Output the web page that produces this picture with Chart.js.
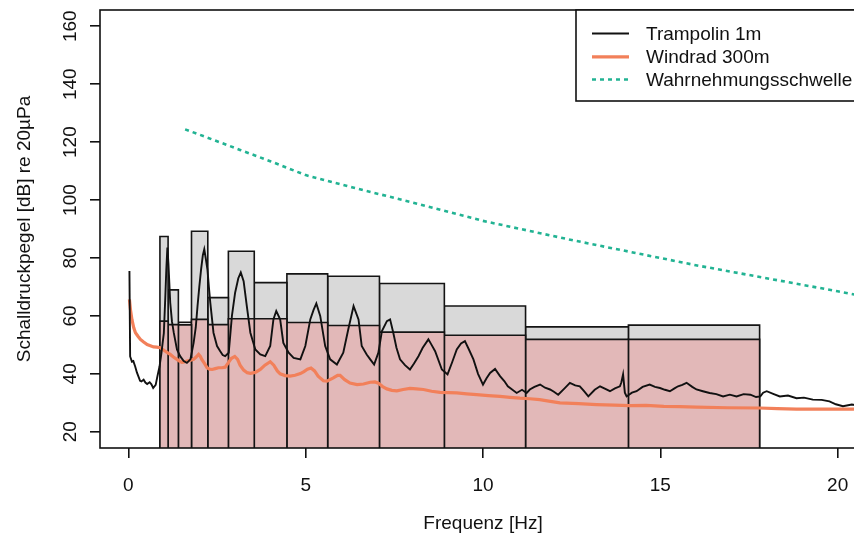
<!DOCTYPE html>
<html>
<head>
<meta charset="utf-8">
<script src="https://cdn.jsdelivr.net/npm/chart.js@4.4.1/dist/chart.umd.min.js"></script>
<style>
  body { margin: 0; background: #fff; }
  #wrap { width: 854px; height: 541px; overflow: hidden; }
</style>
</head>
<body>
<div id="wrap"><canvas id="plot" width="880" height="541"></canvas></div>
<script>
// third-octave bands: lower / upper edge [Hz], band levels [dB]
const bandLow  = [0.89, 1.12, 1.41, 1.78, 2.24, 2.82, 3.55, 4.47, 5.62, 7.08, 8.91, 11.2, 14.1];
const bandHigh = [1.12, 1.41, 1.78, 2.24, 2.82, 3.55, 4.47, 5.62, 7.08, 8.91, 11.2, 14.1, 17.8];
const bandGrey = [87.4, 69.0, 57.8, 89.2, 66.3, 82.3, 71.5, 74.5, 73.7, 71.2, 63.4, 56.2, 56.8];
const bandPink = [58.2, 57.0, 56.9, 58.8, 57.0, 59.0, 59.0, 57.7, 56.7, 54.4, 53.3, 51.9, 51.9];

const seriesNames = ['Trampolin 1m', 'Windrad 300m', 'Wahrnehmungsschwelle'];

// [Hz, dB]
const trampolin = [
  [0.03, 75.5], [0.05, 46], [0.1, 44.2], [0.14, 44.4], [0.19, 42.6], [0.24, 40.5], [0.28, 39.2],
  [0.33, 37.6], [0.37, 37.4], [0.43, 38], [0.48, 37], [0.53, 36.5], [0.6, 37.1], [0.65, 36.4],
  [0.7, 35.1], [0.77, 36.2], [0.82, 39.2], [0.88, 42.6], [0.93, 47], [0.97, 51], [1.0, 54],
  [1.04, 66], [1.07, 76], [1.1, 83.6], [1.13, 78], [1.18, 64.6], [1.23, 58], [1.28, 54.2],
  [1.37, 48.4], [1.46, 46.1], [1.56, 44.4], [1.65, 43.8], [1.75, 45], [1.84, 50.7], [1.9, 56],
  [1.95, 63.4], [2.0, 70], [2.05, 76], [2.1, 81], [2.14, 83], [2.18, 80], [2.23, 76], [2.27, 70],
  [2.31, 64.6], [2.4, 54.2], [2.5, 49.6], [2.59, 47.8], [2.66, 46.5], [2.73, 46.1], [2.83, 47.3],
  [2.92, 60], [3.01, 68], [3.1, 73], [3.17, 75], [3.25, 72], [3.34, 63.4], [3.44, 54.2],
  [3.58, 48.4], [3.72, 46.7], [3.86, 46.1], [4.0, 49.6], [4.09, 58.8], [4.17, 61.7], [4.28, 58.8],
  [4.37, 50.7], [4.52, 47.3], [4.66, 45.5], [4.85, 45], [4.99, 49.6], [5.13, 58.8], [5.22, 62],
  [5.3, 64.3], [5.41, 60], [5.55, 49.6], [5.69, 45], [5.88, 43.2], [6.06, 47.3], [6.2, 55.3],
  [6.35, 63.4], [6.49, 58.8], [6.58, 49.6], [6.72, 46.7], [6.82, 45], [6.93, 43.2], [7.05, 47.3],
  [7.15, 54.8], [7.29, 58.2], [7.38, 58.8], [7.47, 54.2], [7.56, 49], [7.66, 45], [7.8, 43],
  [7.94, 41.5], [8.05, 43.5], [8.18, 46.1], [8.3, 49], [8.46, 51.9], [8.55, 50], [8.65, 47.8],
  [8.84, 41.5], [9.0, 39.8], [9.13, 44], [9.26, 48.4], [9.38, 50.5], [9.49, 51.3], [9.6, 48.5],
  [9.73, 45], [9.86, 40], [10.0, 36.3], [10.1, 38.5], [10.2, 40.3], [10.34, 41.7], [10.48, 39.2],
  [10.6, 37.5], [10.7, 35.7], [10.95, 33.4], [11.1, 34.5], [11.23, 33.4], [11.32, 34.6],
  [11.45, 35.5], [11.61, 36.3], [11.75, 35.2], [11.89, 34.6], [12.0, 33.8], [12.12, 32.8],
  [12.3, 35], [12.45, 36.9], [12.6, 36], [12.73, 35.7], [12.85, 34], [12.97, 32.2], [13.15, 34.5],
  [13.3, 35.7], [13.45, 34.8], [13.58, 34], [13.72, 35], [13.86, 35.7], [13.9, 37], [13.95, 39.8],
  [14.0, 33.5], [14.05, 32.2], [14.2, 33.5], [14.33, 34], [14.5, 35.5], [14.7, 36.3], [14.85, 35.5],
  [14.99, 35.1], [15.13, 34.5], [15.27, 34], [15.4, 35], [15.5, 35.7], [15.62, 36.2], [15.74, 36.9],
  [15.9, 35.5], [16.02, 34.6], [16.2, 34], [16.39, 33.4], [16.58, 33], [16.77, 32.2], [16.96, 32.8],
  [17.15, 32.2], [17.35, 33], [17.54, 32.8], [17.7, 32], [17.82, 32.2], [17.9, 33.5], [18.0, 34],
  [18.2, 33], [18.37, 32.2], [18.6, 32.5], [18.84, 31.6], [19.05, 31.8], [19.3, 31.1], [19.55, 31],
  [19.77, 30.5], [19.95, 29.5], [20.15, 28.8], [20.4, 29.4], [20.6, 29], [20.8, 29.2]
];

const windrad = [
  [0.03, 65.7], [0.06, 62], [0.1, 58.8], [0.15, 56], [0.2, 54.2], [0.27, 53], [0.34, 51.9],
  [0.43, 51], [0.53, 50.1], [0.62, 49.7], [0.71, 49.3], [0.8, 49.2], [0.9, 49], [0.97, 48.4],
  [1.04, 47.8], [1.1, 47.3], [1.18, 46.7], [1.27, 45.8], [1.37, 45], [1.44, 44.4], [1.51, 44],
  [1.58, 44.1], [1.65, 44.4], [1.75, 44.7], [1.84, 45], [1.91, 45.8], [1.98, 46.7], [2.03, 46],
  [2.07, 45], [2.15, 43.5], [2.22, 42.1], [2.29, 41.6], [2.36, 41.5], [2.45, 41.8], [2.54, 42.1],
  [2.64, 42.1], [2.73, 42.3], [2.8, 43.5], [2.9, 45.3], [3.0, 46], [3.08, 45], [3.15, 43],
  [3.25, 41.3], [3.35, 40.4], [3.44, 40.2], [3.58, 40.5], [3.72, 41.5], [3.85, 43], [4.0, 44.2],
  [4.1, 43], [4.2, 41], [4.28, 40], [4.42, 39.4], [4.56, 39.2], [4.7, 39.5], [4.85, 40.1],
  [4.95, 40.8], [5.05, 41.6], [5.15, 42], [5.25, 41], [5.35, 39.2], [5.5, 37.6], [5.6, 37.5],
  [5.78, 38.6], [5.9, 39.5], [5.97, 39.5], [6.1, 38], [6.25, 36.8], [6.45, 36.3], [6.63, 36.5],
  [6.82, 37.1], [6.95, 37.2], [7.05, 36.8], [7.17, 35.6], [7.29, 34.8], [7.43, 34.3], [7.57, 34.1],
  [7.75, 34.6], [7.94, 35], [8.12, 34.8], [8.32, 34.6], [8.55, 34], [8.79, 33.6], [9.03, 33.5],
  [9.26, 33.4], [9.54, 33.1], [9.82, 32.8], [10.15, 32.5], [10.48, 32.2], [10.76, 31.9],
  [11.04, 31.6], [11.32, 31.4], [11.6, 31.1], [11.9, 30.5], [12.17, 30], [12.7, 29.7], [13.2, 29.4],
  [13.7, 29.2], [14.14, 29], [14.6, 29.1], [15.1, 28.8], [15.55, 28.7], [16.02, 28.5], [16.9, 28.3],
  [17.8, 28.2], [18.3, 28], [18.84, 27.8], [19.6, 27.8], [20.4, 27.8], [20.8, 27.9]
];

const schwelleHz = [1.6, 2, 2.5, 3.15, 4, 5, 6.3, 8, 10, 12.5, 16, 20, 25];
const schwelleDb = [124.4, 122.6, 120.3, 117.3, 113.4, 108.6, 104.4, 99.2, 92.8, 86.2, 77.5, 68.5, 57];

const xTicks = [0, 5, 10, 15, 20];
const yTicks = [20, 40, 60, 80, 100, 120, 140, 160];

const FONT = 'Liberation Sans, Arial, Helvetica, sans-serif';
const xMin = -0.8, xMax = 20.8, yMin = 14.4, yMax = 165.6;

function rect(lo, hi, top, fillCol, ord) {
  return {
    data: [{x: lo, y: yMin}, {x: lo, y: top}, {x: hi, y: top}, {x: hi, y: yMin}],
    borderColor: '#141414',
    borderWidth: 1.6,
    backgroundColor: fillCol,
    fill: 'start',
    pointRadius: 0,
    order: ord
  };
}

const datasets = [];
for (let i = 0; i < bandLow.length; i++) {
  datasets.push(rect(bandLow[i], bandHigh[i], bandGrey[i], '#d9d9d9', 4));
  datasets.push(rect(bandLow[i], bandHigh[i], bandPink[i], '#e2b8b8', 3));
}
datasets.push({
  label: seriesNames[0],
  data: trampolin,
  borderColor: '#111111',
  borderWidth: 1.9,
  pointRadius: 0,
  order: 1
});
datasets.push({
  label: seriesNames[1],
  data: windrad,
  borderColor: '#f2805a',
  borderWidth: 3.2,
  pointRadius: 0,
  order: 2
});
datasets.push({
  label: seriesNames[2],
  data: schwelleHz.map((f, i) => ({x: f, y: schwelleDb[i]})),
  borderColor: '#22b393',
  borderWidth: 2.6,
  borderDash: [4, 4],
  pointRadius: 0,
  order: 0
});

// box around the plot region (R style)
const frame = {
  id: 'frame',
  afterDatasetsDraw(chart) {
    const {ctx, chartArea: a} = chart;
    ctx.save();
    ctx.strokeStyle = '#111';
    ctx.lineWidth = 1.6;
    ctx.strokeRect(a.left, a.top, a.right - a.left, a.bottom - a.top);
    ctx.restore();
  }
};

// legend box in the top right corner
const boxLegend = {
  id: 'boxLegend',
  afterDraw(chart) {
    const {ctx, chartArea: a} = chart;
    const left = a.right - 290, top = a.top;
    ctx.save();
    ctx.fillStyle = '#fff';
    ctx.fillRect(left, top, a.right - left, 91);
    ctx.strokeStyle = '#111';
    ctx.lineWidth = 1.6;
    ctx.strokeRect(left, top, a.right - left, 91);
    const items = chart.data.datasets.filter(d => d.label);
    const rowY = [23.5, 46.8, 69.5];
    items.forEach((d, i) => {
      const y = top + rowY[i];
      ctx.strokeStyle = d.borderColor;
      ctx.lineWidth = d.borderWidth;
      ctx.setLineDash(d.borderDash || []);
      ctx.beginPath();
      ctx.moveTo(left + 16, y);
      ctx.lineTo(left + 53, y);
      ctx.stroke();
      ctx.setLineDash([]);
      ctx.fillStyle = '#111';
      ctx.font = '19px ' + FONT;
      ctx.textBaseline = 'middle';
      ctx.fillText(d.label, left + 70, y + 1);
    });
    ctx.restore();
  }
};

function noPad(s) {
  s.paddingTop = 0;
  s.paddingBottom = 0;
  s.paddingLeft = 0;
  s.paddingRight = 0;
}

new Chart(document.getElementById('plot'), {
  type: 'line',
  data: { datasets: datasets },
  plugins: [frame, boxLegend],
  options: {
    responsive: false,
    animation: false,
    layout: { padding: { top: 10, right: 14, left: 0, bottom: 0 } },
    plugins: {
      legend: { display: false },
      tooltip: { enabled: false }
    },
    elements: { line: { tension: 0 } },
    scales: {
      x: {
        type: 'linear',
        min: xMin,
        max: xMax,
        afterBuildTicks: s => { s.ticks = xTicks.map(v => ({value: v})); },
        afterFit: s => { s.height = 93; noPad(s); },
        border: { display: false },
        grid: { drawOnChartArea: false, color: '#111', tickLength: 10, lineWidth: 1.6 },
        ticks: { padding: 16, color: '#111', font: { family: FONT, size: 19 } },
        title: {
          display: true, text: 'Frequenz [Hz]', color: '#111',
          font: { family: FONT, size: 19 }, padding: { top: 0, bottom: 6 }
        }
      },
      y: {
        type: 'linear',
        min: yMin,
        max: yMax,
        afterBuildTicks: s => { s.ticks = yTicks.map(v => ({value: v})); },
        afterFit: s => { s.width = 100; noPad(s); },
        border: { display: false },
        grid: { drawOnChartArea: false, color: '#111', tickLength: 10, lineWidth: 1.6 },
        ticks: {
          minRotation: 90, maxRotation: 90, crossAlign: 'center', padding: 3,
          color: '#111', font: { family: FONT, size: 19 }
        },
        title: {
          display: true, text: 'Schalldruckpegel [dB] re 20µPa', color: '#111',
          font: { family: FONT, size: 19 }, padding: { top: 13, bottom: 0 }
        }
      }
    }
  }
});
</script>
</body>
</html>
